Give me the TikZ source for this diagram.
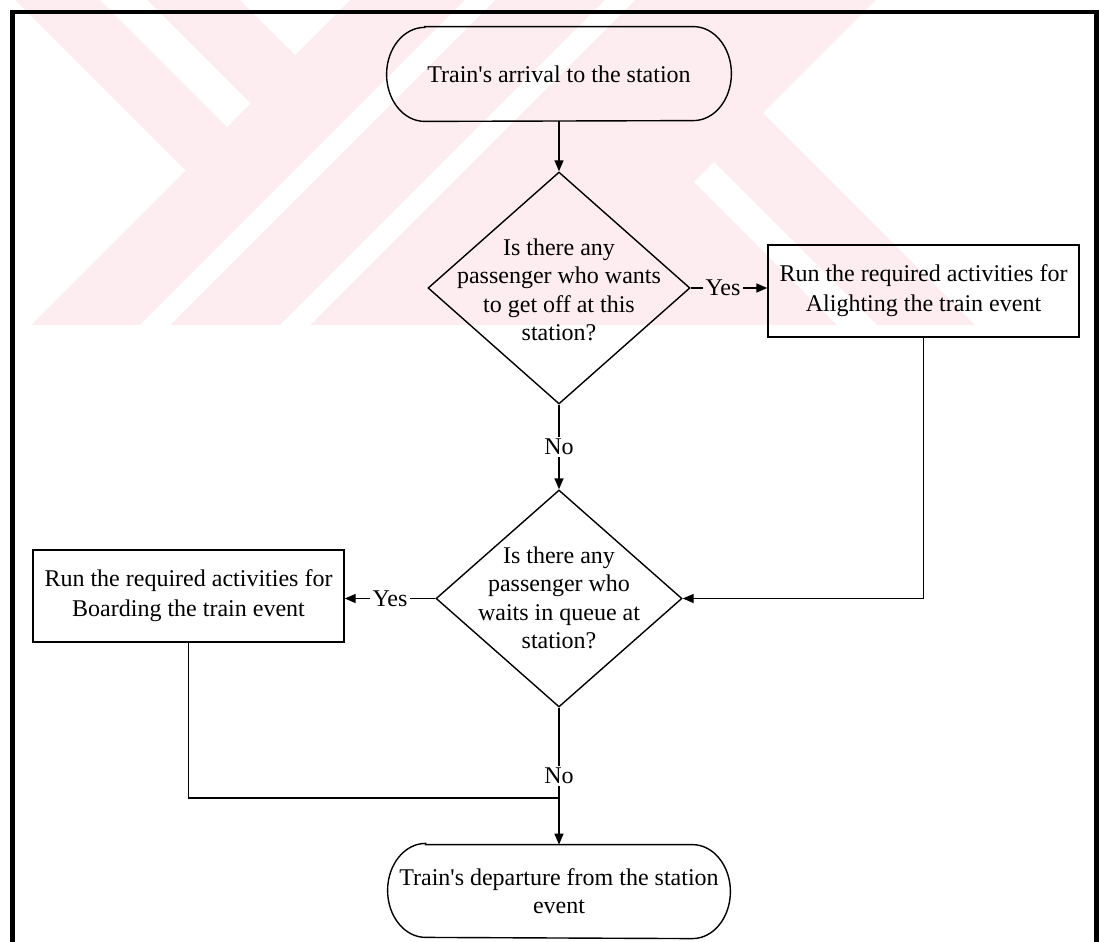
\documentclass[tikz,border=0pt]{standalone}
\usepackage{fontspec}
\setmainfont{Liberation Serif}
\usetikzlibrary{shapes.geometric,arrows.meta}

\definecolor{markpink}{RGB}{253,236,240}

\tikzset{
  outline/.style={line width=0.7pt},
  flow/.style={outline,-{Triangle[length=5.5pt,width=4.5pt]}},
  txt/.style={font=\fontsize{12pt}{14.25pt}\selectfont, align=center, inner sep=0pt},
  terminal/.style={txt, minimum width=#1},
  decision/.style={diamond, draw, outline, inner sep=0pt},
  process/.style={rectangle, draw, outline, align=center, inner sep=0pt,
    font=\fontsize{12pt}{15pt}\selectfont,
    minimum width=155.5pt, minimum height=46pt},
  answer/.style={font=\fontsize{12pt}{14pt}\selectfont, inner sep=1pt},
  frameline/.style={line width=2.1pt}
}

% terminal outline: straight top and bottom, elliptical ends
\newcommand\drawterminal[1]{%
  \draw[outline] ([xshift=19pt]#1.north west) -- ([xshift=-19pt]#1.north east)
    arc[start angle=90, end angle=-90, x radius=19pt, y radius=23.5pt]
    -- ([xshift=19pt]#1.south west)
    arc[start angle=270, end angle=90, x radius=19pt, y radius=23.5pt]
    -- cycle;}

\begin{document}
\begin{tikzpicture}[x=0.5pt, y=-0.5pt]
\useasboundingbox (0,0) rectangle (1099,942);

% faint background mark
\begin{scope}
  \clip (15,0) rectangle (1099,325);
  \fill[markpink] (15,0) rectangle (1099,325);
  \fill[white] (185.5,170.5) -- (-200,-214.5) -- (-200,556.5) -- cycle;
  \fill[white] (227,127) -- (250.5,103.5) -- (-49.5,-196.5) -- (-73,-173) -- cycle;
  \fill[white] (295,55) -- (95,-145) -- (495,-145) -- cycle;
  \fill[white] (-100,565) -- (600,-135) -- (630,-135) -- (-70,565) -- cycle;
  \fill[white] (-100,705) -- (800,-195) -- (830,-195) -- (-70,705) -- cycle;
  \fill[white] (694,182) -- (714,162) -- (1014,462) -- (994,482) -- cycle;
  \fill[white] (763,113) -- (1263,613) -- (1263,-387) -- cycle;
\end{scope}

% page frame
\draw[frameline] (12.5,942) -- (12.5,12) -- (1096.5,12) -- (1096.5,942);

% terminals
\node[terminal=172pt, minimum height=47pt] (t1) at (559,74)
  {Train\textquotesingle s arrival to the station};
\drawterminal{t1}
\node[terminal=171pt, minimum height=46pt] (t2) at (559,891)
  {Train\textquotesingle s departure from the station\\event};
\drawterminal{t2}

% decisions
\node[decision, minimum width=131pt, minimum height=116pt] (d1) at (559,288) {};
\node[txt] (d1t) at (559,290)
  {Is there any\\passenger who wants\\to get off at this\\station?};
\node[decision, minimum width=123pt, minimum height=108.5pt] (d2) at (559,598.5) {};
\node[txt] (d2t) at (559,598)
  {Is there any\\passenger who\\waits in queue at\\station?};

% processes
\node[process] (b1) at (923.5,291)
  {Run the required activities for\\Alighting the train event};
\node[process] (b2) at (188.5,596)
  {Run the required activities for\\Boarding the train event};

% answer labels
\node[answer] (yes1) at (723,288) {Yes};
\node[answer] (yes2) at (390,598.5) {Yes};
\node[answer] (no1) at (559,447) {No};
\node[answer] (no2) at (559,776) {No};
\coordinate (join) at (559,798);

% connectors
\draw[flow] (t1.south) -- (d1.north);
\draw[outline] (d1.east) -- (d1.east -| yes1.west);
\draw[flow] (yes1.east) -- (yes1.east -| b1.west);
\draw[outline] (d1.south) -- (d1.south |- no1.north);
\draw[flow] (no1.south) -- (no1.south |- d2.north);
\draw[flow] (b1.south) |- (d2.east);
\draw[outline] (d2.west) -- (d2.west -| yes2.east);
\draw[flow] (yes2.west) -- (yes2.west -| b2.east);
\draw[outline] (d2.south) -- (d2.south |- no2.north);
\draw[flow] (no2.south) -- (no2.south |- t2.north);
\draw[outline] (b2.south) |- (join);
\end{tikzpicture}
\end{document}
